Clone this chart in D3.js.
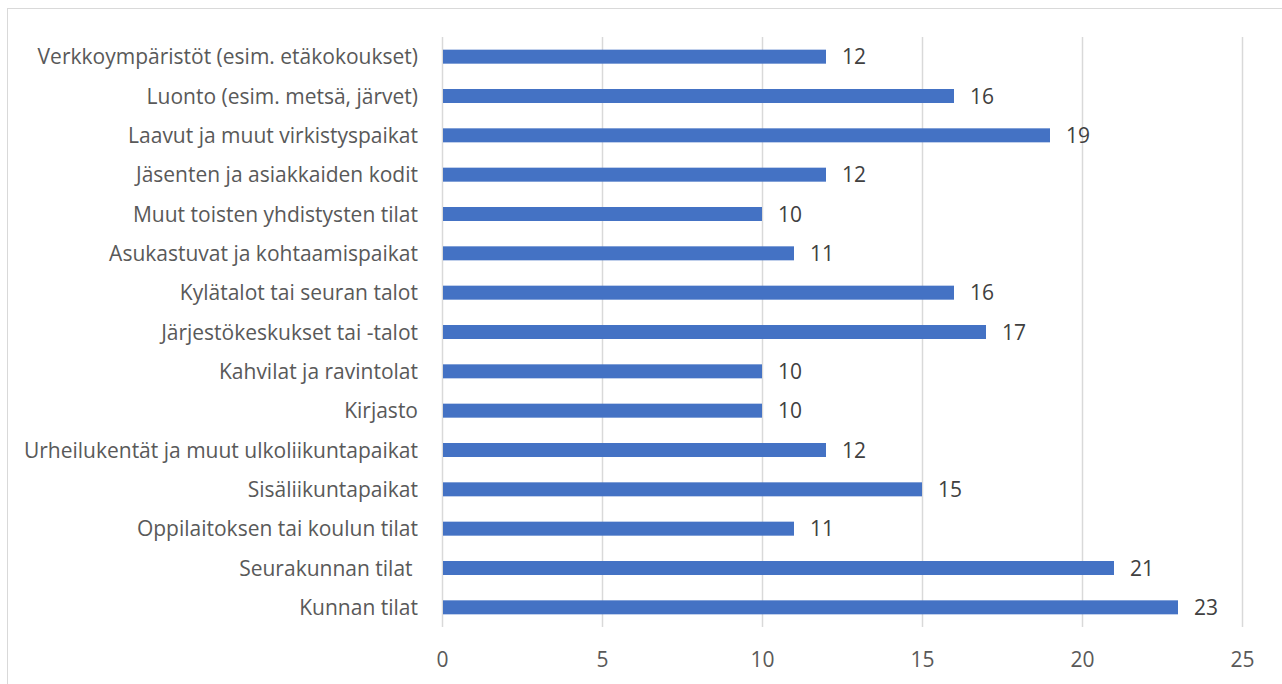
<!DOCTYPE html>
<html><head><meta charset="utf-8">
<script src="https://cdn.jsdelivr.net/npm/d3@7"></script>
<style>body{margin:0;background:#fff}svg{display:block}text{white-space:pre}</style>
</head><body>
<svg id="c" width="1282" height="684"></svg>
<script>
const categories = [
  "Verkkoympäristöt (esim. etäkokoukset)",
  "Luonto (esim. metsä, järvet)",
  "Laavut ja muut virkistyspaikat",
  "Jäsenten ja asiakkaiden kodit",
  "Muut toisten yhdistysten tilat",
  "Asukastuvat ja kohtaamispaikat",
  "Kylätalot tai seuran talot",
  "Järjestökeskukset tai -talot",
  "Kahvilat ja ravintolat",
  "Kirjasto",
  "Urheilukentät ja muut ulkoliikuntapaikat",
  "Sisäliikuntapaikat",
  "Oppilaitoksen tai koulun tilat",
  "Seurakunnan tilat ",
  "Kunnan tilat"
];
const values = [12, 16, 19, 12, 10, 11, 16, 17, 10, 10, 12, 15, 11, 21, 23];
const xTicks = [0, 5, 10, 15, 20, 25];

const svg = d3.select("#c");
const font = "'Open Sans', sans-serif";
const fs = 21;
svg.append("rect").attr("x", 7.5).attr("y", 8.5).attr("width", 1290).attr("height", 700)
  .attr("fill", "#fff").attr("stroke", "#d9d9d9").attr("stroke-width", 1);

const x = d3.scaleLinear().domain([0, 25]).range([442, 1242]);
const y = d3.scaleBand().domain(categories).range([37, 627]).paddingInner(0.644).paddingOuter(0.322);

// gridlines
svg.append("g").selectAll("line").data(xTicks).join("line")
  .attr("x1", d => x(d) + 0.5).attr("x2", d => x(d) + 0.5)
  .attr("y1", 37).attr("y2", 627)
  .attr("stroke", "#d9d9d9").attr("stroke-width", 1.5);

// bars
svg.append("g").selectAll("rect").data(values).join("rect")
  .attr("x", x(0) + 1).attr("y", (d, i) => y(categories[i]))
  .attr("width", d => x(d) - x(0) - 1).attr("height", y.bandwidth())
  .attr("fill", "#4472C4");

// value labels
svg.append("g").selectAll("text").data(values).join("text")
  .attr("x", d => x(d) + 16).attr("y", (d, i) => y(categories[i]) + y.bandwidth() / 2)
  .attr("dy", "0.36em").attr("font-family", font).attr("font-size", fs)
  .attr("fill", "#404040").text(d => d);

// category labels
svg.append("g").selectAll("text").data(categories).join("text")
  .attr("x", 418).attr("y", d => y(d) + y.bandwidth() / 2)
  .attr("dy", "0.36em").attr("text-anchor", "end")
  .attr("font-family", font).attr("font-size", fs)
  .attr("fill", "#595959").text(d => d);

// x axis tick labels
const xAxis = d3.axisBottom(x).tickValues(xTicks).tickSize(0).tickPadding(0);
const gx = svg.append("g").attr("transform", "translate(0,659)").call(xAxis);
gx.select(".domain").remove();
gx.selectAll("text").attr("font-family", font).attr("font-size", fs)
  .attr("fill", "#595959").attr("dy", "0.36em");
</script>
</body></html>
